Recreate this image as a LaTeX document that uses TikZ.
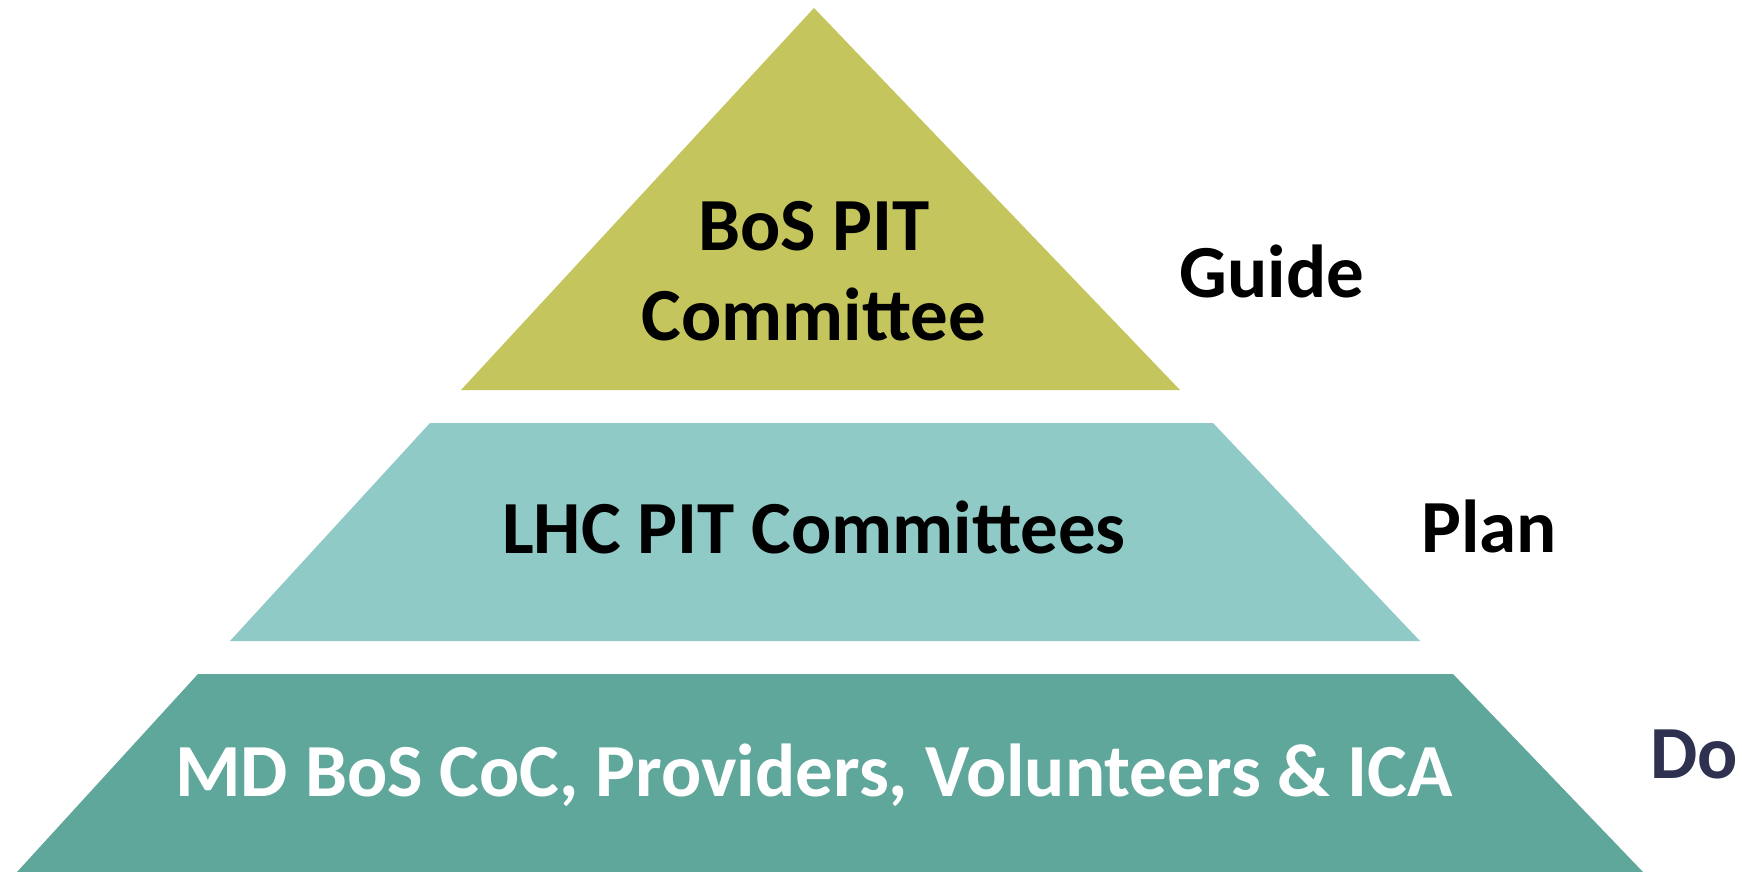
\documentclass[tikz,border=0pt]{standalone}
\usepackage{fontspec}
\setmainfont{Carlito}
\definecolor{topc}{HTML}{C4C65D}
\definecolor{midc}{HTML}{8FCAC7}
\definecolor{botc}{HTML}{5FA69B}
\definecolor{navy}{HTML}{2F3150}
\tikzset{
  lbl/.style={font=\fontsize{75}{90}\selectfont\bfseries, inner sep=0pt, anchor=base, align=center},
}
\begin{document}
\begin{tikzpicture}[x=1pt,y=-1pt]
\fill[white] (0,0) rectangle (1742,872);
\useasboundingbox (0,0) rectangle (1742,872);
\fill[topc] (814,8) -- (1180,390) -- (461,390) -- cycle;
\fill[midc] (430,423) -- (1213,423) -- (1420,641) -- (230,641) -- cycle;
\fill[botc] (198,674) -- (1453,674) -- (1643,872) -- (17,872) -- cycle;
\node[lbl] (bos) at (814,250) {BoS PIT};
\node[lbl] (com) at (814,340) {Committee};
\node[lbl] (lhc) at (814,553) {LHC PIT Committees};
\node[lbl, text=white] (md) at (814,796) {MD BoS CoC, Providers, Volunteers \& ICA};
\node[lbl] (guide) at (1272,297) {Guide};
\node[lbl] (plan) at (1489,552) {Plan};
\node[lbl, text=navy, anchor=base west] (do) at (1650,778) {Do};
\end{tikzpicture}
\end{document}
